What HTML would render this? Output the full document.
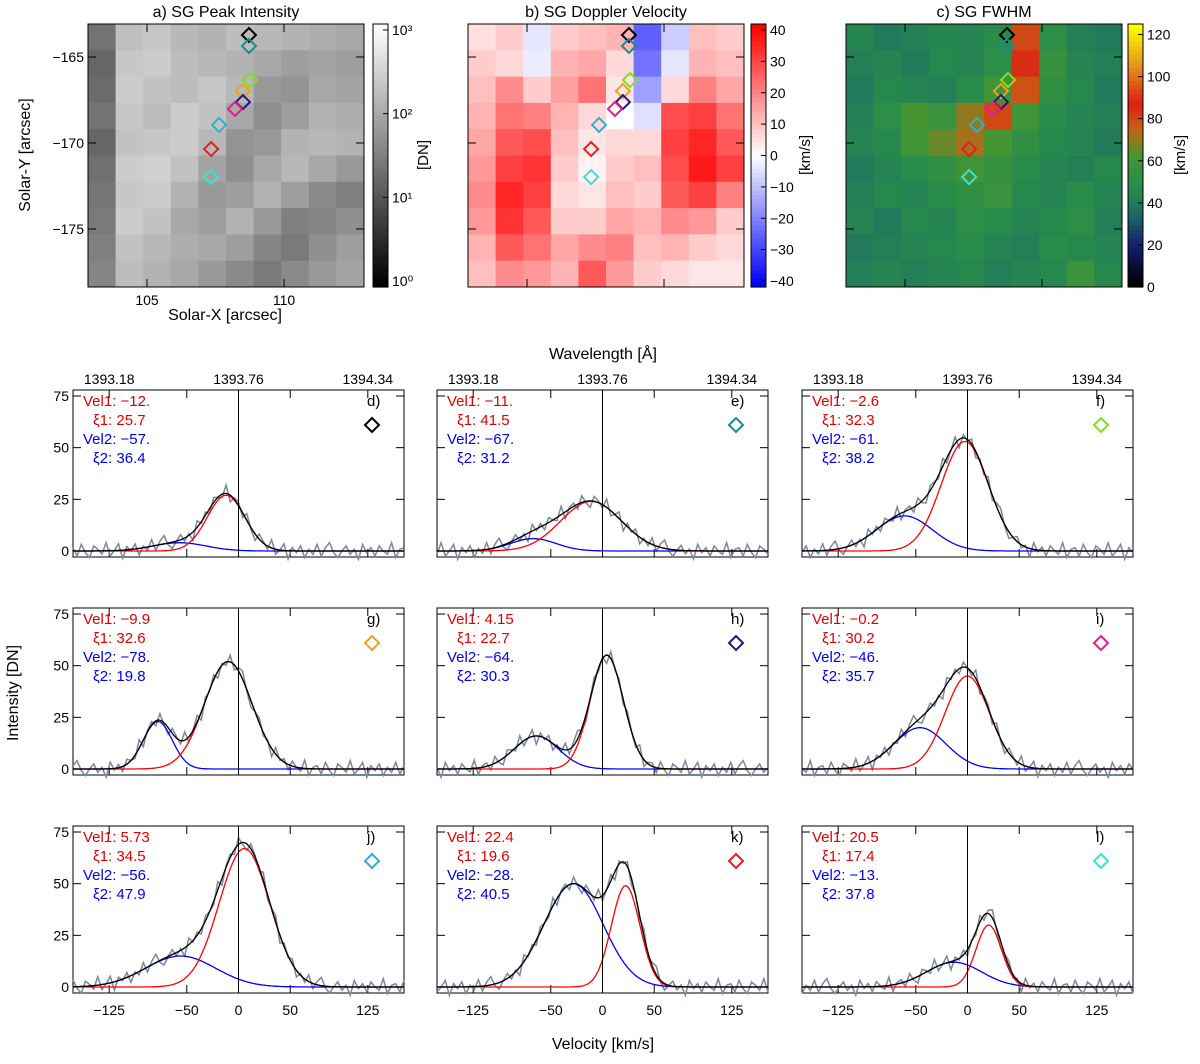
<!DOCTYPE html>
<html><head><meta charset="utf-8"><style>
html,body{margin:0;padding:0;background:#fff}
svg{font-family:"Liberation Sans","DejaVu Sans",sans-serif}
</style></head><body>
<svg id="fig" width="1200" height="1059" viewBox="0 0 1200 1059" xmlns="http://www.w3.org/2000/svg"></svg>
<script>
// ---------- data ----------
const panelLetters = ['d','e','f','g','h','i','j','k','l'];
const vel1 = [-12, -11, -2.6, -9.9, 4.15, -0.2, 5.73, 22.4, 20.5];
const vel1Text = ['-12.','-11.','-2.6','-9.9','4.15','-0.2','5.73','22.4','20.5'];
const xi1 = [25.7, 41.5, 32.3, 32.6, 22.7, 30.2, 34.5, 19.6, 17.4];
const amp1 = [27, 24, 53, 52, 55, 45, 67, 49, 30];
const vel2 = [-57, -67, -61, -78, -64, -46, -56, -28, -13];
const vel2Text = ['-57.','-67.','-61.','-78.','-64.','-46.','-56.','-28.','-13.'];
const xi2 = [36.4, 31.2, 38.2, 19.8, 30.3, 35.7, 47.9, 40.5, 37.8];
const amp2 = [4, 6, 17, 23, 16, 20, 15, 50, 12];
const markColors = ['#000000','#1a8c8c','#80e020','#f0a020','#1a1a80','#e0208a','#30b0cc','#e02020','#40e0d0'];
const residual = [2,-3,4,-1,-4,3,1,-2,5,-3,0,4,-5,2,-1,3,-4,1,-2,4,-3,2,5,-1,-4,0,3,-2,1,-5,4,-1,2,-3,3,0,-2,5,-4,1];
const yTicks = [0,25,50,75];
const xTicks = [-125,-50,0,50,125];
const wlTicks = ['1393.18','1393.76','1394.34'];
const wlVel = [-125,0,125];
// maps (10x10, rows top->bottom)
const mapIntensity = [
[.45,.75,.78,.72,.70,.74,.72,.70,.68,.66],
[.40,.78,.80,.74,.72,.70,.66,.62,.64,.62],
[.42,.80,.76,.74,.78,.72,.60,.58,.66,.64],
[.45,.78,.74,.80,.76,.66,.56,.62,.70,.68],
[.40,.76,.78,.80,.72,.58,.60,.70,.72,.70],
[.44,.80,.82,.76,.64,.56,.66,.72,.66,.60],
[.46,.78,.80,.70,.60,.62,.70,.62,.54,.50],
[.48,.80,.76,.66,.62,.70,.60,.50,.52,.56],
[.50,.76,.72,.68,.66,.62,.52,.48,.56,.62],
[.52,.74,.70,.66,.60,.54,.48,.54,.60,.64]];
const mapDoppler = [
[5,8,-4,8,10,12,-25,-8,10,8],
[8,6,-3,12,14,6,-22,-4,12,10],
[10,18,8,15,22,4,-15,6,20,14],
[12,22,20,12,6,0,-5,28,30,22],
[14,26,28,10,4,6,6,30,34,26],
[16,30,32,8,2,8,10,28,36,30],
[18,34,30,6,4,10,8,26,30,20],
[16,32,26,8,8,14,12,18,16,8],
[12,26,22,14,18,20,10,12,8,6],
[10,18,16,12,26,16,8,6,4,4]];
const mapFwhm = [
[45,40,42,45,44,48,80,50,42,40],
[42,44,40,46,44,50,85,55,44,42],
[40,46,44,42,48,60,78,52,46,40],
[42,50,62,56,70,80,60,48,44,42],
[44,46,60,66,72,62,52,46,44,40],
[40,44,48,52,60,54,48,44,42,46],
[42,46,44,48,52,56,46,44,48,44],
[44,40,46,44,50,48,44,46,50,42],
[40,42,44,46,48,44,42,48,46,44],
[42,44,42,44,46,42,44,46,58,46]];
const diamondX = [108.72,108.72,108.76,108.5,108.5,108.21,107.63,107.34,107.34];
const diamondY = [-163.72,-164.36,-166.34,-166.98,-167.62,-168.02,-168.95,-170.35,-171.98];
const mapYTicks = [-165,-170,-175];
const mapXTicks = [105,110];

// ---------- helpers ----------
const svg = document.getElementById('fig');
const NS = 'http://www.w3.org/2000/svg';
function el(tag, attrs, parent){const e=document.createElementNS(NS,tag);for(const k in attrs)e.setAttribute(k,attrs[k]);(parent||svg).appendChild(e);return e;}
function txt(x,y,s,attrs,parent){const t=el('text',Object.assign({x:x,y:y},attrs||{}),parent);t.textContent=s;return t;}

// ---------- maps ----------
const mapX0s=[88,468,846], mapW=276, mapY0=24, mapH=263;
const mxs = v => (v-105)*27.4;
const mys = v => (v+165)*-17.2+33;
function grayCol(v){const g=Math.round(v*255);return `rgb(${g},${g},${g})`;}
function dopCol(v){const t=Math.max(-1,Math.min(1,v/40));if(t>=0){const c=Math.round(255*(1-t));return `rgb(255,${c},${c})`;}const c=Math.round(255*(1+t));return `rgb(${c},${c},255)`;}
function fwhmCol(v){const t=Math.max(0,Math.min(1,v/125));
 const stops=[[0,[0,0,0]],[0.15,[20,30,110]],[0.28,[30,110,100]],[0.38,[40,140,75]],[0.5,[70,150,50]],[0.6,[200,100,20]],[0.7,[220,30,20]],[0.85,[230,150,30]],[1,[255,255,0]]];
 for(let i=1;i<stops.length;i++){if(t<=stops[i][0]){const a=stops[i-1],b=stops[i];const f=(t-a[0])/(b[0]-a[0]);const c=a[1].map((x,j)=>Math.round(x+(b[1][j]-x)*f));return `rgb(${c})`;}}return 'rgb(255,255,0)';}
const maps=[mapIntensity,mapDoppler,mapFwhm], cols=[grayCol,dopCol,fwhmCol];
const titles=['a) SG Peak Intensity','b) SG Doppler Velocity','c) SG FWHM'];
const mapNames=['intensity-map','doppler-map','fwhm-map'];
for(let m=0;m<3;m++){
 const g=el('g',{});
 
 
 const x0=mapX0s[m];const data=maps[m];
 const cw=mapW/10,ch=mapH/10;
 for(let r=0;r<10;r++)for(let c=0;c<10;c++){
  const cell=el('rect',{x:x0+c*cw,y:mapY0+r*ch,width:cw+0.5,height:ch+0.5,fill:cols[m](data[r][c])},g);
  
  
 }
 el('rect',{x:x0,y:mapY0,width:mapW,height:mapH,fill:'none',stroke:'#000','stroke-width':1},g);
 for(const v of mapYTicks){const y=mapY0+mys(v);el('line',{x1:x0,x2:x0+8,y1:y,y2:y,stroke:'#000'},g);el('line',{x1:x0+mapW-8,x2:x0+mapW,y1:y,y2:y,stroke:'#000'},g);
   if(m===0){const t=txt(x0-4,y+5,'\u2212'+Math.abs(v),{'font-size':14,'text-anchor':'end'},g);}}
 for(const v of mapXTicks){const x=x0+59+mxs(v);el('line',{x1:x,x2:x,y1:mapY0+mapH-8,y2:mapY0+mapH,stroke:'#000'},g);el('line',{x1:x,x2:x,y1:mapY0,y2:mapY0+8,stroke:'#000'},g);
   if(m===0){const t=txt(x,mapY0+mapH+18,String(v),{'font-size':14,'text-anchor':'middle'},g);}}
 const tt=txt(x0+mapW/2,17,titles[m],{'font-size':16,'text-anchor':'middle'});
 
 for(let i=0;i<diamondX.length;i++){
  const cx=x0+59+mxs(diamondX[i]), cy=mapY0+mys(diamondY[i]);
  const d=el('polygon',{points:`${cx},${cy-7} ${cx+7},${cy} ${cx},${cy+7} ${cx-7},${cy}`,fill:'none',stroke:markColors[i],'stroke-width':2});
  
 }
}
let t=txt(225,320,'Solar-X [arcsec]',{'font-size':16,'text-anchor':'middle'});
t=txt(0,0,'Solar-Y [arcsec]',{'font-size':16,'text-anchor':'middle',transform:'translate(30,155) rotate(-90)'});

// colorbars
const cbX=[373,751,1128], cbW=15;
const cbLabels=[['10³','10²','10¹','10⁰'],['40','30','20','10','0','−10','−20','−30','−40'],['120','100','80','60','40','20','0']];
const cbUnits=['[DN]','[km/s]','[km/s]'], cbUnitX=[428,810,1185];
for(let m=0;m<3;m++){
 const g=el('g',{});
 const n=60;
 for(let i=0;i<n;i++){const f=1-i/(n-1);let c;
  if(m===0)c=grayCol(f);else if(m===1)c=dopCol(-40+80*f);else c=fwhmCol(125*f);
  el('rect',{x:cbX[m],y:mapY0+i*mapH/n,width:cbW,height:mapH/n+0.6,fill:c},g);}
 el('rect',{x:cbX[m],y:mapY0,width:cbW,height:mapH,fill:'none',stroke:'#000'},g);
 const labs=cbLabels[m];
 for(let i=0;i<labs.length;i++){
  let y;
  if(m===2)y=mapY0+mapH-(parseFloat(labs[i].replace('−','-'))/125)*mapH;
  else y=mapY0+6+i*(mapH-12)/(labs.length-1);
  el('line',{x1:cbX[m]+cbW-5,x2:cbX[m]+cbW,y1:y,y2:y,stroke:'#000'},g);
  const lt=txt(cbX[m]+cbW+4,y+5,labs[i],{'font-size':14},g);
 }
 const ut=txt(0,0,cbUnits[m],{'font-size':15,'text-anchor':'middle',transform:`translate(${cbUnitX[m]},155) rotate(-90)`});
 
}

// ---------- spectra ----------
const colX=[73,437,802], colW=331;
const rowY=[390,608,826], rowH=167;
const vMin=-160, vMax=160;
t=txt(603,359,'Wavelength [Å]',{'font-size':16,'text-anchor':'middle'});
t=txt(603,1049,'Velocity [km/s]',{'font-size':16,'text-anchor':'middle'});
t=txt(0,0,'Intensity [DN]',{'font-size':16,'text-anchor':'middle',transform:'translate(18,693) rotate(-90)'});
function gauss(v,a,c,w){return a*Math.exp(-Math.pow((v-c)/w,2));}
for(let p=0;p<9;p++){
 const col=p%3,row=Math.floor(p/3);
 const x0=colX[col],y0=rowY[row];
 const xs=v=>x0+(v-vMin)/(vMax-vMin)*colW;
 const ys=d=>y0+rowH-6-d*(155/75);
 const g=el('g',{});
 el('rect',{x:x0,y:y0,width:colW,height:rowH,fill:'#fff',stroke:'#000'},g);
 for(const v of yTicks){const y=ys(v);el('line',{x1:x0,x2:x0+8,y1:y,y2:y,stroke:'#000'},g);el('line',{x1:x0+colW-8,x2:x0+colW,y1:y,y2:y,stroke:'#000'},g);
  if(col===0){const lt=txt(x0-4,y+5,String(v),{'font-size':14,'text-anchor':'end'},g);}}
 for(const v of xTicks){const x=xs(v);el('line',{x1:x,x2:x,y1:y0+rowH-8,y2:y0+rowH,stroke:'#000'},g);el('line',{x1:x,x2:x,y1:y0,y2:y0+8,stroke:'#000'},g);
  if(row===2){const lt=txt(x,y0+rowH+22,String(v).replace('-','−'),{'font-size':14,'text-anchor':'middle'},g);}}
 if(row===0){for(let i=0;i<wlTicks.length;i++){const lt=txt(xs(wlVel[i]),y0-6,wlTicks[i],{'font-size':14,'text-anchor':'middle'},g);}}
 let pts=[];
 for(let i=0,v=vMin;v<=vMax;v+=4,i++){const d=gauss(v,amp1[p],vel1[p],xi1[p])+gauss(v,amp2[p],vel2[p],xi2[p])+residual[(i+p*7)%residual.length]*0.8;pts.push(xs(v).toFixed(1)+','+ys(d).toFixed(1));}
 const gl=el('polyline',{points:pts.join(' '),fill:'none',stroke:'#7a8898','stroke-width':1.5},g);
 const curves=[[v=>gauss(v,amp2[p],vel2[p],xi2[p]),'#0000ff','blue-component'],[v=>gauss(v,amp1[p],vel1[p],xi1[p]),'#ff0000','red-component'],[v=>gauss(v,amp1[p],vel1[p],xi1[p])+gauss(v,amp2[p],vel2[p],xi2[p]),'#000000','total-fit']];
 for(const [f,c,nm] of curves){pts=[];for(let v=vMin;v<=vMax;v+=1)pts.push(xs(v).toFixed(1)+','+ys(f(v)).toFixed(1));
  const l=el('polyline',{points:pts.join(' '),fill:'none',stroke:c,'stroke-width':1.3},g);}
 el('line',{x1:xs(0),x2:xs(0),y1:y0,y2:y0+rowH,stroke:'#000','stroke-width':1},g);
 const tx=x0+10, tb=y0+16;
 const lines=[['Vel1: '+vel1Text[p].replace('-','−'),'#e00000',0],['ξ1: '+xi1[p],'#e00000',10],['Vel2: '+vel2Text[p].replace('-','−'),'#0000ee',0],['ξ2: '+xi2[p],'#0000ee',10]];
 lines.forEach((L,i)=>{const lt=txt(tx+L[2],tb+i*19,L[0],{'font-size':15,fill:L[1]},g);});
 const lt=txt(x0+colW-37,tb,panelLetters[p]+')',{'font-size':15},g);
 const cx=x0+colW-32,cy=y0+35;
 const dm=el('polygon',{points:`${cx},${cy-7} ${cx+7},${cy} ${cx},${cy+7} ${cx-7},${cy}`,fill:'none',stroke:markColors[p],'stroke-width':2},g);
 
}
</script>
</body></html>
